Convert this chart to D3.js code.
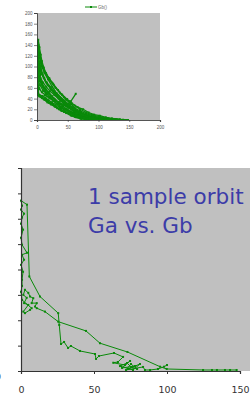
<!DOCTYPE html>
<html><head><meta charset="utf-8">
<script src="https://cdn.jsdelivr.net/npm/d3@7"></script>
<style>
html,body{margin:0;padding:0;background:#fff;}
svg{display:block;}
</style></head>
<body>
<svg id="c" width="250" height="397"></svg>
<script>
// ---------- data ----------
// Top chart: many orbits of Ga vs Gb (series "Gb()")
const topLegend = "Gb()";
const topXTicks = [0, 50, 100, 150, 200];
const topYTicks = [0, 20, 40, 60, 80, 100, 120, 140, 160, 180, 200];
const orbit1 = [[0,150],[2,140],[1,128],[4,118],[8,100],[12,88],[18,76],[25,62],[32,50],[40,40],[48,30],[56,22],[65,15],[75,10],[85,6],[95,3],[110,2],[125,1],[140,0.5],[148,0]];
const orbit2 = [[0,138],[3,125],[2,110],[6,96],[10,82],[15,70],[22,58],[30,46],[38,36],[46,28],[55,20],[62,14],[72,9],[82,5],[92,3],[105,1],[118,0.5],[130,0]];
const orbit3 = [[0,120],[1,105],[4,92],[3,80],[8,68],[14,58],[20,50],[28,40],[35,32],[42,26],[50,19],[58,14],[66,10],[76,6],[88,3],[100,1],[112,0]];
const orbit4 = [[0,100],[2,88],[1,75],[5,65],[10,55],[16,48],[24,40],[30,33],[38,25],[45,20],[52,15],[60,10],[70,6],[80,3],[92,1],[105,0]];
const orbit5 = [[0,85],[1,70],[3,60],[2,50],[6,44],[12,40],[18,35],[25,30],[32,24],[40,18],[48,13],[55,9],[62,6],[70,3],[80,1],[90,0]];
const orbit6 = [[1,145],[3,132],[5,115],[9,100],[14,88],[20,78],[26,68],[34,56],[40,48],[47,38],[55,30],[62,22],[70,17],[80,12],[90,8],[100,5],[112,3],[124,2],[135,1],[145,0]];
const orbit7 = [[0,75],[2,62],[0,48],[4,44],[8,42],[14,38],[20,32],[26,28],[33,22],[40,17],[48,13],[56,8],[64,5],[72,2],[82,1],[95,0]];
const orbit8 = [[0,130],[2,118],[5,106],[7,92],[12,78],[17,66],[24,56],[31,48],[38,42],[44,34],[50,28],[57,24],[64,18],[72,13],[80,9],[90,6],[100,4],[115,2],[128,1],[138,0]];
const orbit9 = [[0,110],[3,98],[6,86],[4,74],[9,64],[15,56],[13,46],[20,42],[27,36],[35,34],[42,28],[38,22],[47,20],[54,16],[60,12],[68,8],[77,5],[86,3],[96,2],[108,1],[120,0]];
const orbit10 = [[0,95],[4,80],[8,70],[11,60],[18,52],[24,45],[30,38],[36,30],[42,29],[48,26],[55,35],[63,49]];
const orbit11 = [[2,140],[5,118],[9,100],[14,88],[20,76],[27,66],[34,56],[41,47],[49,39],[57,31],[66,24],[75,20],[84,14],[93,10],[102,8],[112,5],[122,3],[134,1],[146,0]];
const orbit12 = [[0,60],[1,52],[3,46],[7,43],[11,39],[16,36],[22,31],[29,26],[36,20],[44,15],[52,11],[60,7],[68,5],[78,2],[88,1],[100,0]];
const orbit13 = [[1,148],[0,135],[2,122],[1,112],[3,104],[6,92],[9,84],[13,74],[19,64],[26,54],[33,44],[41,36],[50,26],[59,18],[68,12],[78,8],[90,4],[104,2],[118,1],[128,0]];
const orbit14 = [[0,145],[1,130],[0,118],[2,108],[5,95],[8,86],[11,78],[16,70],[22,62],[28,54],[35,46],[43,38],[52,29],[60,22],[70,15],[80,10],[92,6],[104,3],[118,1],[132,0]];
const orbit15 = [[0,90],[2,80],[1,66],[4,58],[8,52],[13,47],[19,42],[26,36],[33,30],[41,24],[49,18],[57,13],[66,9],[75,6],[85,3],[96,1],[108,0]];
const orbit16 = [[1,125],[0,112],[3,100],[2,88],[6,78],[10,70],[15,62],[21,54],[28,47],[35,40],[43,33],[51,26],[60,19],[69,13],[79,8],[89,5],[100,3],[114,1],[126,0]];
const orbit17 = [[0,70],[2,58],[1,50],[5,46],[9,45],[14,41],[19,37],[24,33],[30,29],[37,24],[44,20],[52,16],[60,12],[68,8],[77,5],[87,3],[98,1],[110,0]];
const orbit18 = [[2,150],[4,136],[6,122],[8,110],[11,98],[15,86],[19,78],[24,70],[30,60],[37,51],[44,43],[52,35],[61,27],[70,20],[80,14],[91,9],[103,6],[116,3],[130,1],[142,0]];
const orbit19 = [[0,105],[1,92],[3,82],[5,72],[9,62],[12,55],[17,50],[23,44],[29,38],[36,33],[43,28],[50,23],[58,18],[66,13],[75,9],[85,5],[96,2],[110,1],[124,0]];
const orbit20 = [[0,55],[2,47],[4,45],[8,41],[12,38],[17,33],[23,29],[29,25],[36,21],[44,17],[51,14],[59,10],[67,7],[76,4],[86,2],[98,1],[112,0]];
const topOrbits = [orbit1, orbit2, orbit3, orbit4, orbit5, orbit6, orbit7, orbit8, orbit9, orbit10,
                   orbit11, orbit12, orbit13, orbit14, orbit15, orbit16, orbit17, orbit18, orbit19, orbit20];

// Bottom chart: one sample orbit Ga vs Gb
const bottomTitle = ["1 sample orbit", "Ga vs. Gb"];
const bottomXTicks = [0, 50, 100, 150];
const bottomYTicks = [0, 20, 40, 60, 80, 100, 120, 140, 160];
const sampleGa = [147.7,143.2,139.7,134.2,130.8,124.7,99.8,95.2,72.9,54.1,44.5,25.5,16.4,10.8,9.6,10.8,7.3,8.4,6.2,5.0,2.7,1.6,3.9,2.1,5.0,1.6,2.7,6.2,7.3,0.7,0.0,0.7,0.7,1.4,0.0,2.1,0.7,4.1,0.7,0.0,1.4,0.0,0.7,2.1,0.0,0.7,0.0,4.1,5.7,13.0,25.5,26.2,27.4,29.5,32.2,34.2,40.4,50.7,51.4,53.4,63.7,69.9,66.4,63.2,71.2,74.7,69.2,78.1,73.3,81.5,76.7,67.8,72.6,75.3,79.5,75.3,71.9,83.6,84.9,88.4,93.8,98.0,100.0];
const sampleGb = [0.8,0.8,0.8,0.8,0.8,0.8,1.6,3.4,15.0,21.9,31.6,38.9,46.8,49.5,50.8,53.5,53.5,57.4,58.7,61.6,64.0,60.0,57.7,53.5,52.1,46.8,45.6,48.2,49.5,56.0,62.4,67.1,71.9,78.2,83.7,87.7,91.6,93.2,99.5,105.0,111.4,116.1,120.9,124.0,127.2,130.3,134.3,131.1,74.5,58.7,45.6,36.3,21.3,22.9,18.2,19.7,15.8,13.4,9.5,11.8,14.2,11.1,7.1,6.5,4.7,7.9,2.4,3.9,1.6,5.5,0.8,3.9,6.3,3.2,1.6,5.5,0.8,3.2,0.8,0.8,1.6,3.4,4.7];

// ---------- drawing ----------
const GREEN = "#0a8a0a";
const svg = d3.select("#c");
const defs = svg.append("defs");

// ===== Top chart =====
const tx = d3.scaleLinear().domain([0, 200]).range([37, 160]);
const ty = d3.scaleLinear().domain([0, 200]).range([120, 13]);
defs.append("clipPath").attr("id", "clipTop").append("rect")
  .attr("x", tx(0)).attr("y", ty(200)).attr("width", tx(200) - tx(0)).attr("height", ty(0) - ty(200));
svg.append("rect").attr("x", tx(0)).attr("y", ty(200))
  .attr("width", tx(200) - tx(0)).attr("height", ty(0) - ty(200)).attr("fill", "#c0c0c0");

const tLine = d3.line().x(d => tx(d[0])).y(d => ty(d[1]));
const gTop = svg.append("g").attr("clip-path", "url(#clipTop)");
topOrbits.forEach(o => {
  gTop.append("path").attr("d", tLine(o)).attr("fill", "none").attr("stroke", GREEN).attr("stroke-width", 1.3);
  gTop.selectAll(null).data(o).enter().append("rect")
    .attr("x", d => tx(d[0]) - 1).attr("y", d => ty(d[1]) - 1)
    .attr("width", 2).attr("height", 2).attr("fill", GREEN);
});

const topXAxis = svg.append("g").attr("transform", `translate(0,${ty(0)})`)
  .call(d3.axisBottom(tx).tickValues(topXTicks).tickSize(2).tickPadding(4));
const topYAxis = svg.append("g").attr("transform", `translate(${tx(0)},0)`)
  .call(d3.axisLeft(ty).tickValues(topYTicks).tickSize(3).tickPadding(1.5));
[topXAxis, topYAxis].forEach(a => {
  a.selectAll("text").attr("font-family", "Liberation Sans, Arial, sans-serif").attr("font-size", 4.5).attr("fill", "#555");
  a.selectAll("line").attr("stroke", "#333").attr("stroke-width", 0.6);
  a.select(".domain").attr("stroke", "#333").attr("stroke-width", 0.8);
});
topXAxis.select(".domain").attr("stroke", "#555").attr("stroke-width", 1.2);

// legend
const leg = svg.append("g");
leg.append("line").attr("x1", 85).attr("x2", 97).attr("y1", 7).attr("y2", 7).attr("stroke", GREEN).attr("stroke-width", 1);
leg.append("rect").attr("x", 90).attr("y", 6).attr("width", 2).attr("height", 2).attr("fill", GREEN);
leg.append("text").attr("x", 98).attr("y", 8.6).text(topLegend)
  .attr("font-family", "Liberation Sans, Arial, sans-serif").attr("font-size", 4.5).attr("fill", "#666");

// ===== Bottom chart =====
const bx = d3.scaleLinear().domain([0, 150]).range([21, 240]);
const by = d3.scaleLinear().domain([0, 160]).range([371, 168]);
const bRight = 250;
defs.append("clipPath").attr("id", "clipBot").append("rect")
  .attr("x", bx(0) - 2).attr("y", by(160)).attr("width", bRight - bx(0) + 2).attr("height", by(0) - by(160) + 1);
svg.append("rect").attr("x", bx(0)).attr("y", by(160))
  .attr("width", bRight - bx(0)).attr("height", by(0) - by(160)).attr("fill", "#c0c0c0");

const sample = sampleGa.map((g, i) => [g, sampleGb[i]]);
const bLine = d3.line().x(d => bx(d[0])).y(d => by(d[1]));
const gBot = svg.append("g").attr("clip-path", "url(#clipBot)");
gBot.append("path").attr("d", bLine(sample)).attr("fill", "none").attr("stroke", GREEN).attr("stroke-width", 1);
gBot.selectAll(null).data(sample).enter().append("rect")
  .attr("x", d => bx(d[0]) - 1).attr("y", d => by(d[1]) - 1)
  .attr("width", 2).attr("height", 2).attr("fill", GREEN);

// title text
const tt = svg.append("text").attr("font-family", "DejaVu Sans, sans-serif")
  .attr("font-size", 21.5).attr("fill", "#3c3ca8");
tt.append("tspan").attr("x", 88).attr("y", 204).text(bottomTitle[0]);
tt.append("tspan").attr("x", 88).attr("y", 233).text(bottomTitle[1]);

const botXAxis = svg.append("g").attr("transform", `translate(0,${by(0)})`)
  .call(d3.axisBottom(bx).tickValues(bottomXTicks).tickSize(3).tickPadding(12));
const botYAxis = svg.append("g").attr("transform", `translate(${bx(0)},0)`)
  .call(d3.axisLeft(by).tickValues(bottomYTicks).tickSize(3).tickPadding(17).tickFormat(d => d === 0 ? "0" : ""));
[botXAxis, botYAxis].forEach(a => {
  a.selectAll("text").attr("font-family", "DejaVu Sans, sans-serif").attr("font-size", 9.5).attr("fill", "#333");
  a.selectAll("line").attr("stroke", "#333").attr("stroke-width", 1);
  a.select(".domain").attr("stroke", "#333").attr("stroke-width", 1.2);
});
botYAxis.selectAll("text").attr("dy", "0.85em");
</script>
</body></html>
